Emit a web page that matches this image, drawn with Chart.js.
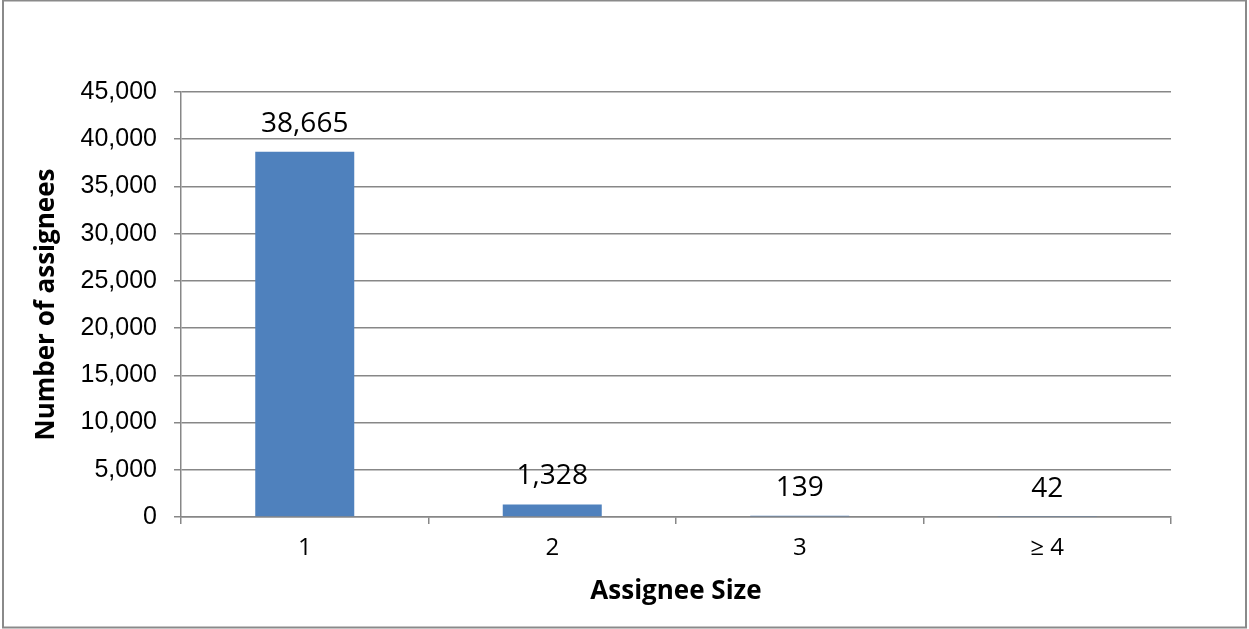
<!DOCTYPE html>
<html>
<head>
<meta charset="utf-8">
<title>Assignee Size</title>
<script src="https://cdn.jsdelivr.net/npm/chart.js@4/dist/chart.umd.min.js"></script>
<style>
  html, body { margin: 0; padding: 0; background: #fff; }
  #wrap { position: relative; width: 1249px; height: 629px; }
</style>
</head>
<body>
<div id="wrap"><canvas id="sizeChart"></canvas></div>
<script>
// assignee counts per assignee size
const categories = ["1", "2", "3", "\u2265 4"];
const assignees = [38665, 1328, 139, 42];
const yTicks = [0, 5000, 10000, 15000, 20000, 25000, 30000, 35000, 40000, 45000];

const GRID = "#878787";
const fmt = v => v.toLocaleString("en-US");

// numbers above each bar
const valueLabels = {
  id: "valueLabels",
  afterDatasetsDraw(chart) {
    const { ctx } = chart;
    const meta = chart.getDatasetMeta(0);
    ctx.save();
    ctx.font = "28px 'Open Sans'";
    ctx.fillStyle = "#000";
    ctx.textAlign = "center";
    ctx.textBaseline = "alphabetic";
    meta.data.forEach((bar, i) => {
      ctx.fillText(fmt(assignees[i]), bar.x, bar.y - 20);
    });
    ctx.restore();
  }
};

// outer frame
const frame = {
  id: "frame",
  afterDraw(chart) {
    const { ctx } = chart;
    ctx.save();
    ctx.strokeStyle = "#8a8a8a";
    ctx.lineWidth = 2;
    ctx.strokeRect(3, 0.5, 1243, 627);
    ctx.restore();
  }
};

new Chart(document.getElementById("sizeChart"), {
  type: "bar",
  data: {
    labels: categories,
    datasets: [{
      data: assignees,
      backgroundColor: "#4F81BD",
      barPercentage: 0.4,
      categoryPercentage: 1
    }]
  },
  options: {
    responsive: true,
    maintainAspectRatio: false,
    animation: false,
    layout: { padding: { left: 0, top: 92, right: 78, bottom: 0 } },
    plugins: { legend: { display: false }, tooltip: { enabled: false } },
    scales: {
      x: {
        afterFit: s => { s.height = 112; },
        grid: { drawOnChartArea: false, drawTicks: true, tickLength: 7, color: GRID, lineWidth: 1.5 },
        border: { color: GRID, width: 1.5 },
        ticks: { color: "#000", padding: 10, font: { family: "'Open Sans'", size: 24 } },
        title: {
          display: true,
          text: "Assignee Size",
          color: "#000",
          padding: { top: 0, bottom: 22 },
          font: { family: "'Open Sans'", size: 26, weight: "bold" }
        }
      },
      y: {
        min: 0,
        max: 45000,
        afterFit: s => { s.width = 181; },
        afterBuildTicks: s => { s.ticks = yTicks.map(v => ({ value: v })); },
        grid: { color: GRID, lineWidth: 1.5, tickLength: 7 },
        border: { color: GRID, width: 1.5 },
        ticks: {
          color: "#000",
          padding: 17,
          font: { family: "'Liberation Sans'", size: 25 },
          callback: v => fmt(v)
        },
        title: {
          display: true,
          text: "Number of assignees",
          color: "#000",
          padding: { top: 31, bottom: 0 },
          font: { family: "'Open Sans'", size: 26, weight: "bold" }
        }
      }
    }
  },
  plugins: [valueLabels, frame]
});
</script>
</body>
</html>
